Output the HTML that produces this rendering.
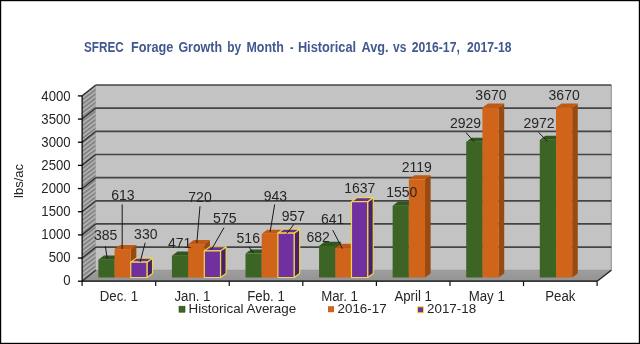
<!DOCTYPE html><html><head><meta charset="utf-8"><style>html,body{margin:0;padding:0;background:#fff}svg{display:block;will-change:transform;filter:blur(0.3px)}text{font-family:"Liberation Sans",sans-serif}</style></head><body>
<svg width="640" height="344" viewBox="0 0 640 344">
<defs><linearGradient id="floorg" x1="0" y1="0" x2="0" y2="1"><stop offset="0" stop-color="#9e9e9e"/><stop offset="1" stop-color="#939393"/></linearGradient></defs>
<rect x="0" y="0" width="640" height="344" fill="#fff"/>
<rect x="0.5" y="0.5" width="639" height="343" fill="none" stroke="#000" stroke-width="1.4"/>
<g font-size="14" font-weight="bold" fill="#41598f">
<text x="84.05" y="52.0" textLength="39.63" lengthAdjust="spacingAndGlyphs">SFREC</text>
<text x="130.99" y="52.0" textLength="42.33" lengthAdjust="spacingAndGlyphs">Forage</text>
<text x="178.40" y="52.0" textLength="43.60" lengthAdjust="spacingAndGlyphs">Growth</text>
<text x="227.35" y="52.0" textLength="13.83" lengthAdjust="spacingAndGlyphs">by</text>
<text x="246.41" y="52.0" textLength="37.37" lengthAdjust="spacingAndGlyphs">Month</text>
<text x="290.05" y="52.0" textLength="3.50" lengthAdjust="spacingAndGlyphs">-</text>
<text x="297.89" y="52.0" textLength="58.25" lengthAdjust="spacingAndGlyphs">Historical</text>
<text x="361.50" y="52.0" textLength="27.05" lengthAdjust="spacingAndGlyphs">Avg.</text>
<text x="393.10" y="52.0" textLength="13.40" lengthAdjust="spacingAndGlyphs">vs</text>
<text x="411.70" y="52.0" textLength="48.14" lengthAdjust="spacingAndGlyphs">2016-17,</text>
<text x="467.05" y="52.0" textLength="44.59" lengthAdjust="spacingAndGlyphs">2017-18</text>
</g>
<rect x="95.80" y="85.00" width="515.50" height="185.30" fill="#c3c3c3"/>
<line x1="611.30" y1="85.00" x2="611.30" y2="270.30" stroke="#8c8c8c" stroke-width="1"/>
<clipPath id="lw"><polygon points="82.1,95.90 95.80,85.00 95.80,270.30 82.1,281.2"/></clipPath>
<polygon points="82.1,95.90 95.80,85.00 95.80,270.30 82.1,281.2" fill="#828282"/>
<g clip-path="url(#lw)" stroke="#b2b2b2" stroke-width="1.7">
<line x1="81.1" y1="94.23" x2="96.8" y2="82.27"/>
<line x1="81.1" y1="98.53" x2="96.8" y2="86.57"/>
<line x1="81.1" y1="102.83" x2="96.8" y2="90.87"/>
<line x1="81.1" y1="107.13" x2="96.8" y2="95.17"/>
<line x1="81.1" y1="111.43" x2="96.8" y2="99.47"/>
<line x1="81.1" y1="115.73" x2="96.8" y2="103.77"/>
<line x1="81.1" y1="120.03" x2="96.8" y2="108.07"/>
<line x1="81.1" y1="124.33" x2="96.8" y2="112.37"/>
<line x1="81.1" y1="128.63" x2="96.8" y2="116.67"/>
<line x1="81.1" y1="132.93" x2="96.8" y2="120.97"/>
<line x1="81.1" y1="137.23" x2="96.8" y2="125.27"/>
<line x1="81.1" y1="141.53" x2="96.8" y2="129.57"/>
<line x1="81.1" y1="145.83" x2="96.8" y2="133.87"/>
<line x1="81.1" y1="150.13" x2="96.8" y2="138.17"/>
<line x1="81.1" y1="154.43" x2="96.8" y2="142.47"/>
<line x1="81.1" y1="158.73" x2="96.8" y2="146.77"/>
<line x1="81.1" y1="163.03" x2="96.8" y2="151.07"/>
<line x1="81.1" y1="167.33" x2="96.8" y2="155.37"/>
<line x1="81.1" y1="171.63" x2="96.8" y2="159.67"/>
<line x1="81.1" y1="175.93" x2="96.8" y2="163.97"/>
<line x1="81.1" y1="180.23" x2="96.8" y2="168.27"/>
<line x1="81.1" y1="184.53" x2="96.8" y2="172.57"/>
<line x1="81.1" y1="188.83" x2="96.8" y2="176.87"/>
<line x1="81.1" y1="193.13" x2="96.8" y2="181.17"/>
<line x1="81.1" y1="197.43" x2="96.8" y2="185.47"/>
<line x1="81.1" y1="201.73" x2="96.8" y2="189.77"/>
<line x1="81.1" y1="206.03" x2="96.8" y2="194.07"/>
<line x1="81.1" y1="210.33" x2="96.8" y2="198.37"/>
<line x1="81.1" y1="214.63" x2="96.8" y2="202.67"/>
<line x1="81.1" y1="218.93" x2="96.8" y2="206.97"/>
<line x1="81.1" y1="223.23" x2="96.8" y2="211.27"/>
<line x1="81.1" y1="227.53" x2="96.8" y2="215.57"/>
<line x1="81.1" y1="231.83" x2="96.8" y2="219.87"/>
<line x1="81.1" y1="236.13" x2="96.8" y2="224.17"/>
<line x1="81.1" y1="240.43" x2="96.8" y2="228.47"/>
<line x1="81.1" y1="244.73" x2="96.8" y2="232.77"/>
<line x1="81.1" y1="249.03" x2="96.8" y2="237.07"/>
<line x1="81.1" y1="253.33" x2="96.8" y2="241.37"/>
<line x1="81.1" y1="257.63" x2="96.8" y2="245.67"/>
<line x1="81.1" y1="261.93" x2="96.8" y2="249.97"/>
<line x1="81.1" y1="266.23" x2="96.8" y2="254.27"/>
<line x1="81.1" y1="270.53" x2="96.8" y2="258.57"/>
<line x1="81.1" y1="274.83" x2="96.8" y2="262.87"/>
<line x1="81.1" y1="279.13" x2="96.8" y2="267.17"/>
<line x1="81.1" y1="283.43" x2="96.8" y2="271.47"/>
<line x1="81.1" y1="287.73" x2="96.8" y2="275.77"/>
<line x1="81.1" y1="292.03" x2="96.8" y2="280.07"/>
<line x1="81.1" y1="296.33" x2="96.8" y2="284.37"/>
<line x1="81.1" y1="300.63" x2="96.8" y2="288.67"/>
</g>
<polygon points="82.1,281.2 597.10,281.2 611.30,270.30 95.80,270.30" fill="url(#floorg)"/>
<line x1="95.80" y1="270.30" x2="611.30" y2="270.30" stroke="#8a8a8a" stroke-width="0.8"/>
<line x1="95.80" y1="85.00" x2="611.30" y2="85.00" stroke="#444" stroke-width="1.7"/>
<line x1="82.1" y1="95.90" x2="95.80" y2="85.00" stroke="#333" stroke-width="1.4"/>
<line x1="95.80" y1="108.16" x2="611.30" y2="108.16" stroke="#444" stroke-width="1.7"/>
<line x1="82.1" y1="119.06" x2="95.80" y2="108.16" stroke="#333" stroke-width="1.4"/>
<line x1="95.80" y1="131.32" x2="611.30" y2="131.32" stroke="#444" stroke-width="1.7"/>
<line x1="82.1" y1="142.22" x2="95.80" y2="131.32" stroke="#333" stroke-width="1.4"/>
<line x1="95.80" y1="154.49" x2="611.30" y2="154.49" stroke="#444" stroke-width="1.7"/>
<line x1="82.1" y1="165.39" x2="95.80" y2="154.49" stroke="#333" stroke-width="1.4"/>
<line x1="95.80" y1="177.65" x2="611.30" y2="177.65" stroke="#444" stroke-width="1.7"/>
<line x1="82.1" y1="188.55" x2="95.80" y2="177.65" stroke="#333" stroke-width="1.4"/>
<line x1="95.80" y1="200.81" x2="611.30" y2="200.81" stroke="#444" stroke-width="1.7"/>
<line x1="82.1" y1="211.71" x2="95.80" y2="200.81" stroke="#333" stroke-width="1.4"/>
<line x1="95.80" y1="223.97" x2="611.30" y2="223.97" stroke="#444" stroke-width="1.7"/>
<line x1="82.1" y1="234.88" x2="95.80" y2="223.97" stroke="#333" stroke-width="1.4"/>
<line x1="95.80" y1="247.14" x2="611.30" y2="247.14" stroke="#444" stroke-width="1.7"/>
<line x1="82.1" y1="258.04" x2="95.80" y2="247.14" stroke="#333" stroke-width="1.4"/>
<line x1="82.1" y1="281.2" x2="95.80" y2="270.30" stroke="#333" stroke-width="1.2"/>
<line x1="597.10" y1="281.2" x2="611.30" y2="270.30" stroke="#222" stroke-width="1.4"/>
<line x1="82.1" y1="95.90" x2="82.1" y2="281.9" stroke="#000" stroke-width="1.2"/>
<line x1="82.1" y1="281.2" x2="597.10" y2="281.2" stroke="#000" stroke-width="1.3"/>
<line x1="77.9" y1="95.90" x2="82.1" y2="95.90" stroke="#000" stroke-width="1.3"/>
<text x="70.6" y="100.55" font-size="14" fill="#262626" text-anchor="end" textLength="29.28" lengthAdjust="spacingAndGlyphs">4000</text>
<line x1="77.9" y1="119.06" x2="82.1" y2="119.06" stroke="#000" stroke-width="1.3"/>
<text x="70.6" y="123.59" font-size="14" fill="#262626" text-anchor="end" textLength="29.28" lengthAdjust="spacingAndGlyphs">3500</text>
<line x1="77.9" y1="142.22" x2="82.1" y2="142.22" stroke="#000" stroke-width="1.3"/>
<text x="70.6" y="146.63" font-size="14" fill="#262626" text-anchor="end" textLength="29.28" lengthAdjust="spacingAndGlyphs">3000</text>
<line x1="77.9" y1="165.39" x2="82.1" y2="165.39" stroke="#000" stroke-width="1.3"/>
<text x="70.6" y="169.67" font-size="14" fill="#262626" text-anchor="end" textLength="29.28" lengthAdjust="spacingAndGlyphs">2500</text>
<line x1="77.9" y1="188.55" x2="82.1" y2="188.55" stroke="#000" stroke-width="1.3"/>
<text x="70.6" y="192.71" font-size="14" fill="#262626" text-anchor="end" textLength="29.28" lengthAdjust="spacingAndGlyphs">2000</text>
<line x1="77.9" y1="211.71" x2="82.1" y2="211.71" stroke="#000" stroke-width="1.3"/>
<text x="70.6" y="215.75" font-size="14" fill="#262626" text-anchor="end" textLength="29.28" lengthAdjust="spacingAndGlyphs">1500</text>
<line x1="77.9" y1="234.88" x2="82.1" y2="234.88" stroke="#000" stroke-width="1.3"/>
<text x="70.6" y="238.79" font-size="14" fill="#262626" text-anchor="end" textLength="29.28" lengthAdjust="spacingAndGlyphs">1000</text>
<line x1="77.9" y1="258.04" x2="82.1" y2="258.04" stroke="#000" stroke-width="1.3"/>
<text x="70.6" y="261.83" font-size="14" fill="#262626" text-anchor="end" textLength="21.96" lengthAdjust="spacingAndGlyphs">500</text>
<line x1="77.9" y1="281.20" x2="82.1" y2="281.20" stroke="#000" stroke-width="1.3"/>
<text x="70.6" y="284.87" font-size="14" fill="#262626" text-anchor="end" textLength="7.32" lengthAdjust="spacingAndGlyphs">0</text>
<line x1="82.10" y1="281.2" x2="82.10" y2="286.1" stroke="#111" stroke-width="1.2"/>
<line x1="155.67" y1="281.2" x2="155.67" y2="286.1" stroke="#111" stroke-width="1.2"/>
<line x1="229.24" y1="281.2" x2="229.24" y2="286.1" stroke="#111" stroke-width="1.2"/>
<line x1="302.81" y1="281.2" x2="302.81" y2="286.1" stroke="#111" stroke-width="1.2"/>
<line x1="376.39" y1="281.2" x2="376.39" y2="286.1" stroke="#111" stroke-width="1.2"/>
<line x1="449.96" y1="281.2" x2="449.96" y2="286.1" stroke="#111" stroke-width="1.2"/>
<line x1="523.53" y1="281.2" x2="523.53" y2="286.1" stroke="#111" stroke-width="1.2"/>
<line x1="597.10" y1="281.2" x2="597.10" y2="286.1" stroke="#111" stroke-width="1.2"/>
<text x="118.89" y="300.6" font-size="14" fill="#262626" text-anchor="middle" textLength="38.23" lengthAdjust="spacingAndGlyphs">Dec. 1</text>
<text x="192.46" y="300.6" font-size="14" fill="#262626" text-anchor="middle" textLength="36.04" lengthAdjust="spacingAndGlyphs">Jan. 1</text>
<text x="266.03" y="300.6" font-size="14" fill="#262626" text-anchor="middle" textLength="37.51" lengthAdjust="spacingAndGlyphs">Feb. 1</text>
<text x="339.60" y="300.6" font-size="14" fill="#262626" text-anchor="middle" textLength="36.76" lengthAdjust="spacingAndGlyphs">Mar. 1</text>
<text x="413.17" y="300.6" font-size="14" fill="#262626" text-anchor="middle" textLength="37.50" lengthAdjust="spacingAndGlyphs">April 1</text>
<text x="486.74" y="300.6" font-size="14" fill="#262626" text-anchor="middle" textLength="36.02" lengthAdjust="spacingAndGlyphs">May 1</text>
<text x="560.31" y="300.6" font-size="14" fill="#262626" text-anchor="middle" textLength="30.15" lengthAdjust="spacingAndGlyphs">Peak</text>
<text transform="translate(23.0,181) rotate(-90)" font-size="13" fill="#262626" text-anchor="middle">lbs/ac</text>
<polygon points="114.55,259.66 120.15,255.56 120.15,273.40 114.55,277.50" fill="#284a18"/>
<polygon points="98.35,259.66 114.55,259.66 120.15,255.56 103.95,255.56" fill="#2f561d"/>
<rect x="98.35" y="259.66" width="16.2" height="17.84" fill="#3c6424"/>
<polygon points="130.75,249.10 136.35,245.00 136.35,273.40 130.75,277.50" fill="#984a10"/>
<polygon points="114.55,249.10 130.75,249.10 136.35,245.00 120.15,245.00" fill="#c05a12"/>
<rect x="114.55" y="249.10" width="16.2" height="28.40" fill="#d0641a"/>
<polygon points="146.95,262.21 152.55,258.11 152.55,273.40 146.95,277.50" fill="#4a1f6c" stroke="#ecd84a" stroke-width="1.2" stroke-linejoin="round"/>
<polygon points="130.75,262.21 146.95,262.21 152.55,258.11 136.35,258.11" fill="#6a2c96" stroke="#ecd84a" stroke-width="1.2" stroke-linejoin="round"/>
<rect x="130.75" y="262.21" width="16.2" height="15.29" fill="#7030a0" stroke="#ecd84a" stroke-width="1.2" stroke-linejoin="round"/>
<polygon points="188.12,255.68 193.72,251.58 193.72,273.40 188.12,277.50" fill="#284a18"/>
<polygon points="171.92,255.68 188.12,255.68 193.72,251.58 177.52,251.58" fill="#2f561d"/>
<rect x="171.92" y="255.68" width="16.2" height="21.82" fill="#3c6424"/>
<polygon points="204.32,244.15 209.92,240.05 209.92,273.40 204.32,277.50" fill="#984a10"/>
<polygon points="188.12,244.15 204.32,244.15 209.92,240.05 193.72,240.05" fill="#c05a12"/>
<rect x="188.12" y="244.15" width="16.2" height="33.35" fill="#d0641a"/>
<polygon points="220.52,250.86 226.12,246.76 226.12,273.40 220.52,277.50" fill="#4a1f6c" stroke="#ecd84a" stroke-width="1.2" stroke-linejoin="round"/>
<polygon points="204.32,250.86 220.52,250.86 226.12,246.76 209.92,246.76" fill="#6a2c96" stroke="#ecd84a" stroke-width="1.2" stroke-linejoin="round"/>
<rect x="204.32" y="250.86" width="16.2" height="26.64" fill="#7030a0" stroke="#ecd84a" stroke-width="1.2" stroke-linejoin="round"/>
<polygon points="261.69,253.60 267.29,249.50 267.29,273.40 261.69,277.50" fill="#284a18"/>
<polygon points="245.49,253.60 261.69,253.60 267.29,249.50 251.09,249.50" fill="#2f561d"/>
<rect x="245.49" y="253.60" width="16.2" height="23.90" fill="#3c6424"/>
<polygon points="277.89,233.82 283.49,229.72 283.49,273.40 277.89,277.50" fill="#984a10"/>
<polygon points="261.69,233.82 277.89,233.82 283.49,229.72 267.29,229.72" fill="#c05a12"/>
<rect x="261.69" y="233.82" width="16.2" height="43.68" fill="#d0641a"/>
<polygon points="294.09,233.17 299.69,229.07 299.69,273.40 294.09,277.50" fill="#4a1f6c" stroke="#ecd84a" stroke-width="1.2" stroke-linejoin="round"/>
<polygon points="277.89,233.17 294.09,233.17 299.69,229.07 283.49,229.07" fill="#6a2c96" stroke="#ecd84a" stroke-width="1.2" stroke-linejoin="round"/>
<rect x="277.89" y="233.17" width="16.2" height="44.33" fill="#7030a0" stroke="#ecd84a" stroke-width="1.2" stroke-linejoin="round"/>
<polygon points="335.26,245.91 340.86,241.81 340.86,273.40 335.26,277.50" fill="#284a18"/>
<polygon points="319.06,245.91 335.26,245.91 340.86,241.81 324.66,241.81" fill="#2f561d"/>
<rect x="319.06" y="245.91" width="16.2" height="31.59" fill="#3c6424"/>
<polygon points="351.46,247.81 357.06,243.71 357.06,273.40 351.46,277.50" fill="#984a10"/>
<polygon points="335.26,247.81 351.46,247.81 357.06,243.71 340.86,243.71" fill="#c05a12"/>
<rect x="335.26" y="247.81" width="16.2" height="29.69" fill="#d0641a"/>
<polygon points="367.66,201.67 373.26,197.57 373.26,273.40 367.66,277.50" fill="#4a1f6c" stroke="#ecd84a" stroke-width="1.2" stroke-linejoin="round"/>
<polygon points="351.46,201.67 367.66,201.67 373.26,197.57 357.06,197.57" fill="#6a2c96" stroke="#ecd84a" stroke-width="1.2" stroke-linejoin="round"/>
<rect x="351.46" y="201.67" width="16.2" height="75.83" fill="#7030a0" stroke="#ecd84a" stroke-width="1.2" stroke-linejoin="round"/>
<polygon points="408.84,205.70 414.44,201.60 414.44,273.40 408.84,277.50" fill="#284a18"/>
<polygon points="392.64,205.70 408.84,205.70 414.44,201.60 398.24,201.60" fill="#2f561d"/>
<rect x="392.64" y="205.70" width="16.2" height="71.80" fill="#3c6424"/>
<polygon points="425.04,179.34 430.64,175.24 430.64,273.40 425.04,277.50" fill="#984a10"/>
<polygon points="408.84,179.34 425.04,179.34 430.64,175.24 414.44,175.24" fill="#c05a12"/>
<rect x="408.84" y="179.34" width="16.2" height="98.16" fill="#d0641a"/>
<polygon points="482.41,141.81 488.01,137.71 488.01,273.40 482.41,277.50" fill="#284a18"/>
<polygon points="466.21,141.81 482.41,141.81 488.01,137.71 471.81,137.71" fill="#2f561d"/>
<rect x="466.21" y="141.81" width="16.2" height="135.69" fill="#3c6424"/>
<polygon points="498.61,107.49 504.21,103.39 504.21,273.40 498.61,277.50" fill="#984a10"/>
<polygon points="482.41,107.49 498.61,107.49 504.21,103.39 488.01,103.39" fill="#c05a12"/>
<rect x="482.41" y="107.49" width="16.2" height="170.01" fill="#d0641a"/>
<polygon points="555.98,139.82 561.58,135.72 561.58,273.40 555.98,277.50" fill="#284a18"/>
<polygon points="539.78,139.82 555.98,139.82 561.58,135.72 545.38,135.72" fill="#2f561d"/>
<rect x="539.78" y="139.82" width="16.2" height="137.68" fill="#3c6424"/>
<polygon points="572.18,107.49 577.78,103.39 577.78,273.40 572.18,277.50" fill="#984a10"/>
<polygon points="555.98,107.49 572.18,107.49 577.78,103.39 561.58,103.39" fill="#c05a12"/>
<rect x="555.98" y="107.49" width="16.2" height="170.01" fill="#d0641a"/>
<text x="105.60" y="240.30" font-size="14" fill="#262626" text-anchor="middle">385</text>
<text x="122.90" y="199.90" font-size="14" fill="#262626" text-anchor="middle">613</text>
<text x="145.80" y="239.10" font-size="14" fill="#262626" text-anchor="middle">330</text>
<text x="179.70" y="247.90" font-size="14" fill="#262626" text-anchor="middle">471</text>
<text x="200.00" y="201.50" font-size="14" fill="#262626" text-anchor="middle">720</text>
<text x="224.80" y="222.90" font-size="14" fill="#262626" text-anchor="middle">575</text>
<text x="248.25" y="242.50" font-size="14" fill="#262626" text-anchor="middle">516</text>
<text x="275.45" y="200.90" font-size="14" fill="#262626" text-anchor="middle">943</text>
<text x="293.45" y="220.70" font-size="14" fill="#262626" text-anchor="middle">957</text>
<text x="318.15" y="241.80" font-size="14" fill="#262626" text-anchor="middle">682</text>
<text x="332.65" y="223.90" font-size="14" fill="#262626" text-anchor="middle">641</text>
<text x="359.85" y="193.10" font-size="14" fill="#262626" text-anchor="middle">1637</text>
<text x="401.85" y="197.10" font-size="14" fill="#262626" text-anchor="middle">1550</text>
<text x="416.85" y="172.00" font-size="14" fill="#262626" text-anchor="middle">2119</text>
<text x="465.50" y="128.10" font-size="14" fill="#262626" text-anchor="middle">2929</text>
<text x="490.95" y="100.00" font-size="14" fill="#262626" text-anchor="middle">3670</text>
<text x="539.10" y="127.60" font-size="14" fill="#262626" text-anchor="middle">2972</text>
<text x="564.15" y="100.00" font-size="14" fill="#262626" text-anchor="middle">3670</text>
<line x1="105.4" y1="246.2" x2="107.2" y2="258.5" stroke="#1a1a1a" stroke-width="1.0"/>
<line x1="122.2" y1="204.4" x2="122.2" y2="249.0" stroke="#1a1a1a" stroke-width="1.0"/>
<line x1="145.2" y1="242.7" x2="140.1" y2="262.0" stroke="#1a1a1a" stroke-width="1.0"/>
<line x1="200.0" y1="206.2" x2="196.8" y2="243.0" stroke="#1a1a1a" stroke-width="1.0"/>
<line x1="224.0" y1="227.6" x2="211.2" y2="250.0" stroke="#1a1a1a" stroke-width="1.0"/>
<line x1="248.9" y1="246.8" x2="253.3" y2="253.2" stroke="#1a1a1a" stroke-width="1.0"/>
<line x1="274.7" y1="204.4" x2="270.1" y2="231.9" stroke="#1a1a1a" stroke-width="1.0"/>
<line x1="293.9" y1="224.3" x2="286.9" y2="233.4" stroke="#1a1a1a" stroke-width="1.0"/>
<line x1="332.7" y1="230.1" x2="342.4" y2="248.7" stroke="#1a1a1a" stroke-width="1.0"/>
<line x1="466.1" y1="132.7" x2="474.3" y2="142.1" stroke="#1a1a1a" stroke-width="1.0"/>
<line x1="538.6" y1="132.4" x2="547.4" y2="141.4" stroke="#1a1a1a" stroke-width="1.0"/>
<rect x="179" y="306.2" width="6" height="6" fill="#3c6424" stroke="#2a4a1a" stroke-width="0.6"/>
<text x="188.5" y="313" font-size="13.4" fill="#262626">Historical Average</text>
<rect x="328" y="306.2" width="6" height="6" fill="#d0641a"/>
<text x="337.5" y="313" font-size="13.4" fill="#262626">2016-17</text>
<rect x="417.5" y="306.8" width="6" height="6" fill="#7030a0" stroke="#f0e040" stroke-width="1"/>
<text x="427" y="313" font-size="13.4" fill="#262626">2017-18</text>
</svg></body></html>
